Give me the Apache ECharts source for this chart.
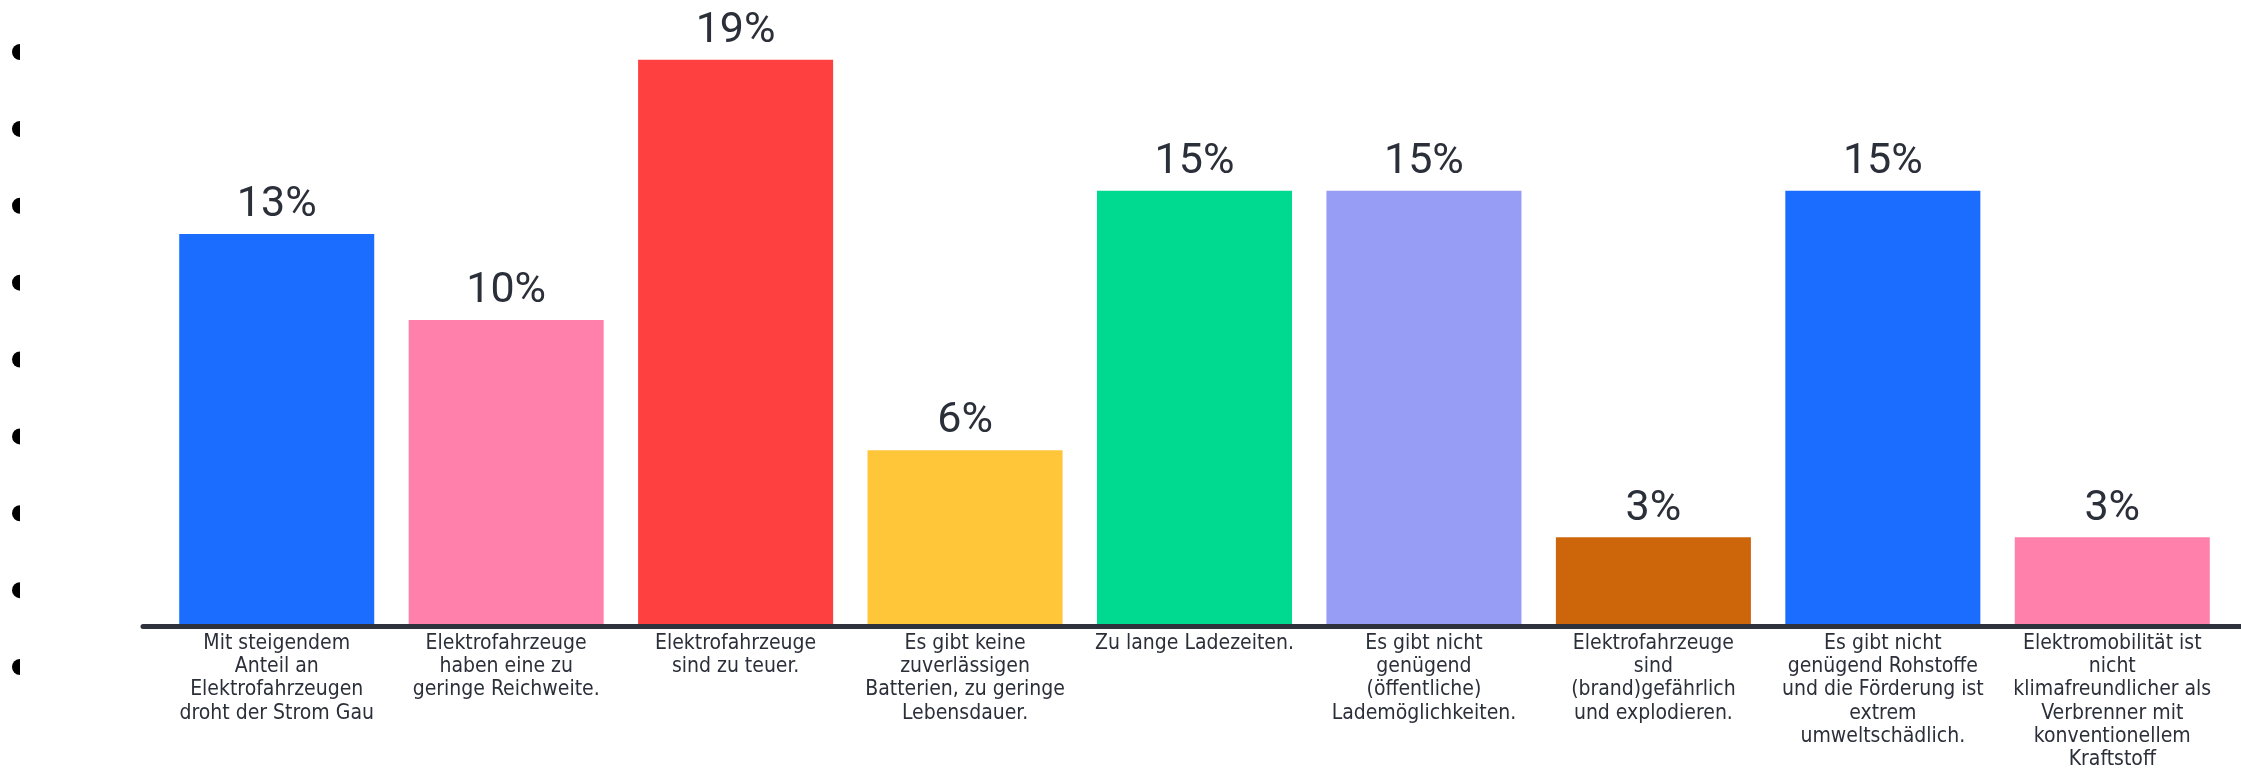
<!DOCTYPE html>
<html>
<head>
<meta charset="utf-8">
<script src="https://cdn.jsdelivr.net/npm/echarts@6/dist/echarts.min.js"></script>
<style>
  html, body { margin: 0; padding: 0; background: #fff; }
  #chart { width: 2241px; height: 768px; }
</style>
</head>
<body>
<div id="chart"></div>
<script>
// Gründe gegen Elektromobilität (Anteil in %)
var categories = [
  "Mit steigendem\nAnteil an\nElektrofahrzeugen\ndroht der Strom Gau",
  "Elektrofahrzeuge\nhaben eine zu\ngeringe Reichweite.",
  "Elektrofahrzeuge\nsind zu teuer.",
  "Es gibt keine\nzuverlässigen\nBatterien, zu geringe\nLebensdauer.",
  "Zu lange Ladezeiten.",
  "Es gibt nicht\ngenügend\n(öffentliche)\nLademöglichkeiten.",
  "Elektrofahrzeuge\nsind\n(brand)gefährlich\nund explodieren.",
  "Es gibt nicht\ngenügend Rohstoffe\nund die Förderung ist\nextrem\numweltschädlich.",
  "Elektromobilität ist\nnicht\nklimafreundlicher als\nVerbrenner mit\nkonventionellem\nKraftstoff"
];
var values = [13.16, 10.27, 19, 5.91, 14.61, 14.61, 2.99, 14.61, 2.99];

// linke Punktreihe (9 Marken)
var dotTicks = [0, 1, 2, 3, 4, 5, 6, 7, 8];

var barColors = ["#1b6dff", "#ff80aa", "#ff4040", "#ffc639", "#00da91",
                 "#979cf4", "#cd650b", "#1b6dff", "#ff80aa"];

var narrow = "'DejaVu Sans Condensed', 'Liberation Sans Narrow', sans-serif";
var textColor = "#2b2f39";

var chart = echarts.init(document.getElementById("chart"));

var option = {
  backgroundColor: "#ffffff",
  animation: false,
  grid: [
    // Balken
    { left: 162, right: 14, top: 0, bottom: 141.5, outerBoundsMode: "none", containLabel: false },
    // Grundlinie
    { left: 143, right: 0, top: 0, bottom: 141.5, outerBoundsMode: "none", containLabel: false },
    // Punkte links
    { left: 28, width: 10, top: 52, bottom: 101, outerBoundsMode: "none", containLabel: false }
  ],
  xAxis: [
    {
      gridIndex: 0,
      type: "category",
      data: categories,
      axisLine: { show: false },
      axisTick: { show: false },
      axisLabel: {
        interval: 0,
        margin: 5,
        color: textColor,
        fontFamily: narrow,
        fontSize: 21,
        lineHeight: 23.3,
        align: "center"
      }
    },
    {
      gridIndex: 1,
      type: "value",
      min: 0,
      max: 1,
      z: 5,
      axisLine: { show: true, lineStyle: { color: "#2e323c", width: 5 } },
      axisTick: { show: false },
      axisLabel: { show: false },
      splitLine: { show: false }
    },
    {
      gridIndex: 2,
      type: "value",
      show: false
    }
  ],
  yAxis: [
    {
      gridIndex: 0,
      type: "value",
      min: 0,
      max: 21,
      show: false,
      splitLine: { show: false }
    },
    {
      gridIndex: 1,
      type: "value",
      show: false
    },
    {
      gridIndex: 2,
      type: "value",
      inverse: true,
      min: dotTicks[0],
      max: dotTicks[dotTicks.length - 1],
      interval: 1,
      axisLine: { show: false },
      axisTick: { show: false },
      splitLine: { show: false },
      axisLabel: {
        margin: 8,
        formatter: function () { return "{d| }"; },
        rich: {
          d: {
            width: 8,
            height: 16,
            lineHeight: 16,
            fontSize: 14,
            padding: 0,
            backgroundColor: "#000000",
            borderRadius: [8, 0, 0, 8]
          }
        }
      }
    }
  ],
  series: [
    {
      type: "bar",
      xAxisIndex: 0,
      yAxisIndex: 0,
      barCategoryGap: "15%",
      data: values.map(function (v, i) {
        return { value: v, itemStyle: { color: barColors[i] } };
      }),
      label: {
        show: true,
        position: "top",
        distance: 7,
        color: textColor,
        fontFamily: "Roboto, 'Liberation Sans', sans-serif",
        fontSize: 43,
        formatter: function (p) { return Math.round(p.value) + "%"; }
      }
    }
  ]
};

chart.setOption(option);
</script>
</body>
</html>
